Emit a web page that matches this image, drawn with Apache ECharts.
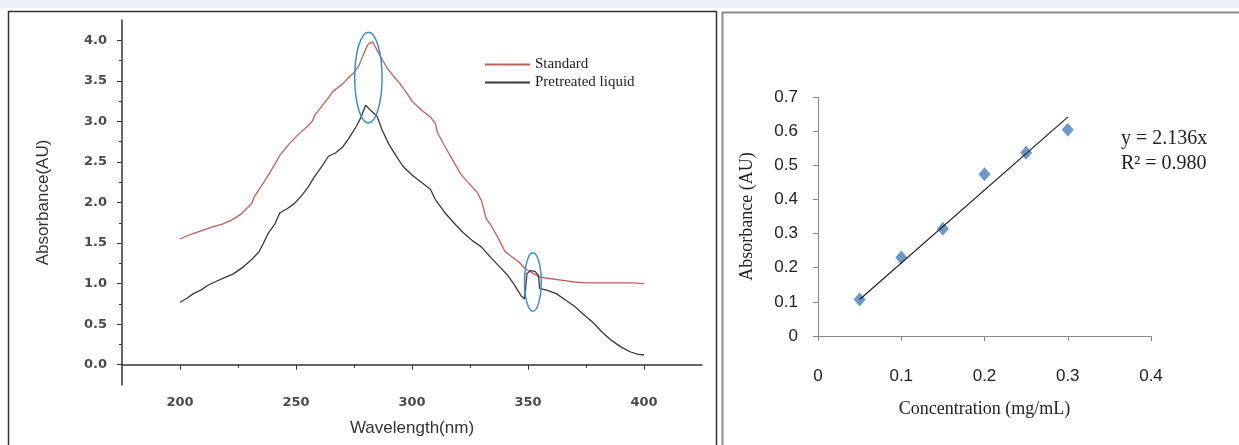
<!DOCTYPE html>
<html>
<head>
<meta charset="utf-8">
<script src="https://cdn.jsdelivr.net/npm/echarts@6/dist/echarts.min.js"></script>
<style>
html,body{margin:0;padding:0;background:#fff;}
#main{width:1239px;height:445px;}
</style>
</head>
<body>
<div id="main"></div>
<script>
// UV spectra (left)
var wlStandard = [200,203,206,210,214,218,222,226,231,232,235,239,243,247,251,255,257,258,262,266,270,273,275,277,279,281,283,284,286,289,292,295,298,300,304,308,310,311,314,318,321,325,328,330,332,334,337,340,343,346,349,352,355,360,365,370,375,380,385,390,395,400];
var absStandard = [1.55,1.59,1.62,1.66,1.70,1.73,1.78,1.85,1.99,2.07,2.20,2.38,2.58,2.72,2.84,2.94,3.00,3.07,3.22,3.37,3.46,3.55,3.60,3.68,3.82,3.95,3.98,3.93,3.82,3.67,3.56,3.46,3.34,3.25,3.14,3.05,2.98,2.86,2.70,2.50,2.35,2.22,2.13,2.02,1.80,1.72,1.57,1.40,1.33,1.27,1.18,1.13,1.08,1.06,1.04,1.02,1.01,1.01,1.01,1.01,1.01,1.00];
var wlPretreated = [200,203,206,209,212,215,219,223,227,231,234,236,238,241,243,246,249,252,255,258,261,264,267,270,273,276,278,280,282,285,287,290,293,296,300,304,308,310,314,318,322,326,330,334,338,341,344,347,348.5,349,349.5,351,353,354.5,355,358,362,366,370,374,378,382,386,390,394,397,400];
var absPretreated = [0.77,0.82,0.88,0.92,0.98,1.02,1.07,1.12,1.20,1.30,1.39,1.50,1.62,1.74,1.87,1.92,1.98,2.07,2.18,2.32,2.44,2.57,2.61,2.68,2.80,2.94,3.05,3.20,3.14,3.06,2.90,2.72,2.58,2.45,2.34,2.25,2.16,2.04,1.88,1.75,1.63,1.53,1.45,1.32,1.20,1.11,0.99,0.85,0.81,0.95,1.12,1.16,1.15,1.10,0.94,0.92,0.88,0.80,0.72,0.62,0.52,0.40,0.30,0.22,0.16,0.13,0.12];
var wlTicks = [200,250,300,350,400];
var wlMinorTicks = [225,275,325,375];
var absTicks = [0,0.5,1,1.5,2,2.5,3,3.5,4];
var absMinorTicks = [0.25,0.75,1.25,1.75,2.25,2.75,3.25,3.75];
// highlighted regions: [wavelength, absorbance, half-width nm, half-height AU]
var markEllipses = [[281.2,3.54,5.9,0.56],[352.1,1.02,3.6,0.36]];

// calibration curve (right)
var concentration = [0.05,0.10,0.15,0.20,0.25,0.30];
var absorbance = [0.107,0.230,0.314,0.474,0.537,0.604];
var trendX = [0.05,0.30];
var trendY = [0.107,0.641];

var chart = echarts.init(document.getElementById('main'));
var sans = 'Liberation Sans, Arial, sans-serif';
var tickFont = 'DejaVu Sans, sans-serif';
var serif = 'Liberation Serif, Times New Roman, serif';

function pairs(xs, ys){
  var out = [];
  for (var i = 0; i < xs.length; i++) out.push([xs[i], ys[i]]);
  return out;
}

var option = {
  animation: false,
  backgroundColor: '#fff',
  legend: {
    data: ['Standard','Pretreated liquid'],
    orient: 'vertical',
    left: 480, top: 52,
    icon: 'rect', itemWidth: 45, itemHeight: 2, itemGap: 3,
    textStyle: {fontFamily: serif, fontSize: 15, color: '#222'}
  },
  grid: [
    {left: 122, top: 20, width: 580, height: 365},
    {left: 818, top: 97, width: 333, height: 239}
  ],
  xAxis: [
    {
      gridIndex: 0, type: 'value', min: 175, max: 425, position: 'bottom',
      axisLine: {lineStyle: {color: '#333', width: 1.5}},
      axisTick: {customValues: wlTicks, length: 5, lineStyle: {color: '#333'}},
      axisLabel: {customValues: wlTicks, margin: 11, fontFamily: tickFont, fontSize: 13, fontWeight: 'bold', color: '#4a4a4a'},
      splitLine: {show: false},
      name: 'Wavelength(nm)', nameLocation: 'middle', nameGap: 35,
      nameTextStyle: {fontFamily: sans, fontSize: 17, color: '#333'}
    },
    {
      gridIndex: 0, type: 'value', min: 175, max: 425, position: 'bottom',
      axisLine: {show: false},
      axisTick: {customValues: wlMinorTicks, length: 3, lineStyle: {color: '#333'}},
      axisLabel: {show: false}, splitLine: {show: false}
    },
    {
      gridIndex: 1, type: 'value', min: 0, max: 0.4, interval: 0.1,
      axisLine: {lineStyle: {color: '#888'}},
      axisTick: {length: 5, lineStyle: {color: '#888'}},
      axisLabel: {margin: 32, fontFamily: sans, fontSize: 17, color: '#222',
        formatter: function(v){ return v === 0 ? '0' : v.toFixed(1); }},
      splitLine: {show: false},
      name: 'Concentration (mg/mL)', nameLocation: 'middle', nameGap: 64,
      nameTextStyle: {fontFamily: serif, fontSize: 18, color: '#222'}
    }
  ],
  yAxis: [
    {
      gridIndex: 0, type: 'value', min: -0.25, max: 4.25, position: 'left',
      axisLine: {show: true, lineStyle: {color: '#333', width: 1.5}},
      axisTick: {show: true, customValues: absTicks, length: 5, lineStyle: {color: '#333'}},
      axisLabel: {customValues: absTicks, margin: 15, fontFamily: tickFont, fontSize: 13, fontWeight: 'bold', color: '#4a4a4a',
        formatter: function(v){ return v.toFixed(1); }},
      splitLine: {show: false},
      name: 'Absorbance(AU)', nameLocation: 'middle', nameGap: 70,
      nameTextStyle: {fontFamily: sans, fontSize: 17, color: '#333'}
    },
    {
      gridIndex: 0, type: 'value', min: -0.25, max: 4.25, position: 'left',
      axisLine: {show: false},
      axisTick: {show: true, customValues: absMinorTicks, length: 3, lineStyle: {color: '#333'}},
      axisLabel: {show: false}, splitLine: {show: false}
    },
    {
      gridIndex: 1, type: 'value', min: 0, max: 0.7, interval: 0.1,
      axisLine: {show: true, lineStyle: {color: '#888'}},
      axisTick: {show: true, length: 5, lineStyle: {color: '#888'}},
      axisLabel: {margin: 20, fontFamily: sans, fontSize: 17, color: '#222',
        formatter: function(v){ return v === 0 ? '0' : v.toFixed(1); }},
      splitLine: {show: false},
      name: 'Absorbance (AU)', nameLocation: 'middle', nameGap: 62,
      nameTextStyle: {fontFamily: serif, fontSize: 18, color: '#222'}
    }
  ],
  series: [
    {
      name: 'Standard', type: 'line', xAxisIndex: 0, yAxisIndex: 0,
      data: pairs(wlStandard, absStandard), showSymbol: false,
      lineStyle: {color: '#c0605c', width: 1.3}, itemStyle: {color: '#c0605c'}
    },
    {
      name: 'Pretreated liquid', type: 'line', xAxisIndex: 0, yAxisIndex: 0,
      data: pairs(wlPretreated, absPretreated), showSymbol: false,
      lineStyle: {color: '#3a3a3a', width: 1.3}, itemStyle: {color: '#3a3a3a'}
    },
    {
      name: 'trend', type: 'line', xAxisIndex: 2, yAxisIndex: 2,
      data: pairs(trendX, trendY), showSymbol: false,
      lineStyle: {color: '#222', width: 1.2}
    },
    {
      name: 'samples', type: 'scatter', xAxisIndex: 2, yAxisIndex: 2,
      data: pairs(concentration, absorbance),
      symbol: 'diamond', symbolSize: [12, 14],
      itemStyle: {color: '#4a7ebb'}
    }
  ]
};
chart.setOption(option);

// panel frames, equation text and the blue highlight ellipses
var gfx = [
  {type: 'rect', shape: {x: 0, y: 0, width: 1239, height: 8}, style: {fill: '#eaf0f7'}, silent: true, z: -1},
  {type: 'rect', shape: {x: 8.5, y: 11.5, width: 708, height: 440}, style: {fill: null, stroke: '#333', lineWidth: 1.5}, silent: true},
  {type: 'rect', shape: {x: 722.5, y: 12.5, width: 530, height: 440}, style: {fill: null, stroke: '#8c8c8c', lineWidth: 2}, silent: true},
  {type: 'text', left: 1121, top: 126, style: {text: 'y = 2.136x\nR\u00b2 = 0.980', font: '20px ' + serif, fill: '#222', lineHeight: 25}, silent: true}
];
markEllipses.forEach(function(e){
  var c = chart.convertToPixel({gridIndex: 0}, [e[0], e[1]]);
  var r = chart.convertToPixel({gridIndex: 0}, [e[0] + e[2], e[1] + e[3]]);
  gfx.push({
    type: 'ellipse', silent: true, z: 10,
    shape: {cx: c[0], cy: c[1], rx: Math.abs(r[0] - c[0]), ry: Math.abs(c[1] - r[1])},
    style: {fill: null, stroke: '#3d8fca', lineWidth: 1.5}
  });
});
chart.setOption({graphic: gfx});
</script>
</body>
</html>
